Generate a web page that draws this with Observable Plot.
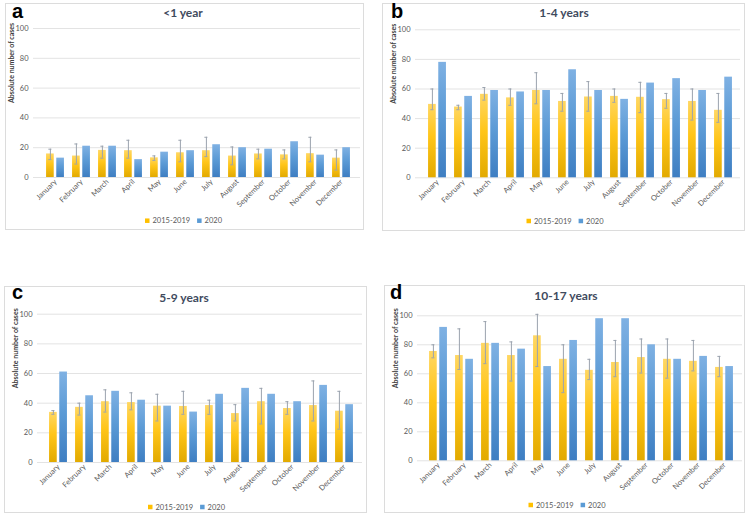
<!DOCTYPE html>
<html>
<head>
<meta charset="utf-8">
<script src="https://cdn.jsdelivr.net/npm/d3@7"></script>
<script src="https://cdn.jsdelivr.net/npm/@observablehq/plot@0.6"></script>
<style>
  body { margin: 0; background: #fff; }
  #root { position: relative; width: 749px; height: 516px; overflow: hidden; background: #fff; }
  .panel { position: absolute; }
  .frame { position: absolute; left: 0; top: 0; right: 0; bottom: 0; border: 1px solid #dcdcdc; box-sizing: border-box; }
  .panel svg { position: absolute; left: 0; top: 0; }
  #overlay { position: absolute; left: 0; top: 0; pointer-events: none; }
</style>
</head>
<body>
<div id="root"></div>
<script>
// ---------------- data ----------------
const months = ["January","February","March","April","May","June","July","August","September","October","November","December"];
const seriesNames = ["2015-2019", "2020"];
const yTicks = [0, 20, 40, 60, 80, 100];
const yLabel = "Absolute number of cases";
const panelLetters = ["a", "b", "c", "d"];
const panelTitles = ["<1 year", "1-4 years", "5-9 years", "10-17 years"];

// (a) <1 year
const aMean = [15.8, 14.4, 18.2, 18.0, 13.2, 16.6, 18.0, 14.4, 15.8, 15.2, 16.0, 13.0];
const aLo   = [12, 9, 13, 13, 11.5, 10.5, 14, 8.5, 12.5, 12.5, 10.5, 5];
const aHi   = [19, 22.5, 21, 25, 14.5, 25, 27, 20.5, 19, 18.5, 27, 18.5];
const a2020 = [13, 21, 21, 12, 17, 18, 22, 20, 19, 24, 15, 20];

// (b) 1-4 years
const bMean = [49.6, 47.8, 56.4, 54.0, 59.0, 51.6, 54.6, 55.0, 54.4, 52.8, 51.6, 45.6];
const bLo   = [46, 46, 52.5, 49, 50, 45, 45, 51, 44, 47, 39, 37.5];
const bHi   = [60, 49, 61, 60, 71, 57, 65, 60, 64.5, 57, 60, 57];
const b2020 = [78, 55, 59, 58, 59, 73, 59, 53, 64, 67, 59, 68];

// (c) 5-9 years
const cMean = [33.8, 37.2, 41.0, 40.4, 38.0, 37.8, 38.4, 33.0, 41.0, 36.4, 38.4, 34.6];
const cLo   = [32.5, 32, 34, 35.5, 28, 32.5, 32.5, 28, 26, 32.5, 28, 22.5];
const cHi   = [35, 40, 49, 47, 46, 48, 42, 39, 50, 41, 55, 48];
const c2020 = [61, 45, 48, 42, 38, 34, 46, 50, 46, 41, 52, 39];

// (d) 10-17 years
const dMean = [75.4, 72.6, 81.0, 72.6, 86.2, 70.0, 62.4, 67.8, 71.2, 70.0, 68.6, 64.4];
const dLo   = [71, 63, 67, 55, 65, 47, 56, 58, 60.5, 57, 62, 58];
const dHi   = [80, 91, 96, 82, 101, 80, 70, 83, 84, 84, 83, 72];
const d2020 = [92, 70, 81, 77, 65, 83, 98, 98, 80, 70, 72, 65];

const panelData = [
  {mean: aMean, lo: aLo, hi: aHi, v2020: a2020},
  {mean: bMean, lo: bLo, hi: bHi, v2020: b2020},
  {mean: cMean, lo: cLo, hi: cHi, v2020: c2020},
  {mean: dMean, lo: dLo, hi: dHi, v2020: d2020}
];

// ---------------- layout (pixels) ----------------
const FONT = "Lato, 'Open Sans', 'DejaVu Sans', sans-serif";
const layout = [
  {box: [5, 3, 364, 230],   frame: [33, 360],  xr: [36, 359.3],   y100: 28,    y0: 177,   letter: [12, 18.3],  title: [183, 16.9], legend: [183.5, 220.7]},
  {box: [382, 3, 745, 231], frame: [415, 740], xr: [418, 741],    y100: 29.3,  y0: 177.3, letter: [391, 18.3], title: [564, 16.9], legend: [565, 221]},
  {box: [4, 286, 367, 513], frame: [37, 362],  xr: [39.3, 362.3], y100: 313.7, y0: 462,   letter: [12, 298.5], title: [184, 301.7], legend: [186.5, 507]},
  {box: [384, 285, 745, 513], frame: [417, 742], xr: [419.5, 742.7], y100: 315.3, y0: 460.3, letter: [390, 298.5], title: [566, 300.2], legend: [567, 505]}
];
const colors = {
  yellow: [["0%", "#ffd763"], ["45%", "#ffc519"], ["100%", "#e2aa00"]],
  blue:   [["0%", "#7fb1e3"], ["45%", "#5c9bd6"], ["100%", "#3e7ec2"]]
};
const swatch = {yellow: "#ffc000", blue: "#5b9bd5"};

const svgNS = "http://www.w3.org/2000/svg";
function gradientDefs(key) {
  return () => {
    const defs = document.createElementNS(svgNS, "defs");
    for (const [name, stops] of Object.entries(colors)) {
      const g = document.createElementNS(svgNS, "linearGradient");
      g.setAttribute("id", `g-${name}-${key}`);
      g.setAttribute("x1", "0"); g.setAttribute("y1", "0");
      g.setAttribute("x2", "0"); g.setAttribute("y2", "1");
      for (const [o, c] of stops) {
        const s = document.createElementNS(svgNS, "stop");
        s.setAttribute("offset", o); s.setAttribute("stop-color", c);
        g.appendChild(s);
      }
      defs.appendChild(g);
    }
    return defs;
  };
}

const root = document.getElementById("root");

layout.forEach((L, p) => {
  const D = panelData[p];
  const key = panelLetters[p];
  const rows = months.map((m, i) => ({month: m, mean: D.mean[i], lo: D.lo[i], hi: D.hi[i], v2020: D.v2020[i]}));
  const w = L.box[2] - L.box[0], h = L.box[3] - L.box[1];
  const step = (L.xr[1] - L.xr[0]) / months.length;
  const barW = 8.6, gap = 1.6;
  const side = (step - 2 * barW - gap) / 2;
  const errCenter = side + barW / 2;
  const capHalf = 2;

  const chart = Plot.plot({
    width: w, height: h,
    marginLeft: L.frame[0] - L.box[0],
    marginRight: L.box[2] - L.frame[1],
    marginTop: L.y100 - L.box[1],
    marginBottom: L.box[3] - L.y0,
    style: {fontFamily: FONT, fontSize: "7.5px", background: "transparent", overflow: "visible"},
    x: {type: "band", domain: months, range: [L.xr[0] - L.box[0], L.xr[1] - L.box[0]], padding: 0},
    y: {domain: [0, 100]},
    marks: [
      gradientDefs(key),
      Plot.gridY(yTicks, {stroke: "#e3e3e3", strokeOpacity: 1}),
      Plot.axisY(yTicks, {tickSize: 0, tickPadding: 5, color: "#595959", label: null}),
      Plot.axisX({tickRotate: -45, tickSize: 0, tickPadding: 3, color: "#595959", label: null}),
      Plot.barY(rows, {x: "month", y: "mean", fill: `url(#g-yellow-${key})`, insetLeft: side, insetRight: step - side - barW}),
      Plot.barY(rows, {x: "month", y: "v2020", fill: `url(#g-blue-${key})`, insetLeft: side + barW + gap, insetRight: side}),
      Plot.ruleX(rows, {x: "month", y1: "lo", y2: "hi", stroke: "#9ba3ae", strokeWidth: 1, dx: errCenter - step / 2}),
      Plot.tickY(rows, {x: "month", y: "hi", stroke: "#9ba3ae", insetLeft: errCenter - capHalf, insetRight: step - errCenter - capHalf}),
      Plot.tickY(rows, {x: "month", y: "lo", stroke: "#9ba3ae", insetLeft: errCenter - capHalf, insetRight: step - errCenter - capHalf}),
      Plot.text([yLabel], {frameAnchor: "left", rotate: -90, dx: -21.5, fontWeight: "bold", fontSize: 7, fill: "#404040"})
    ]
  });

  const div = document.createElement("div");
  div.className = "panel";
  div.style.left = L.box[0] + "px"; div.style.top = L.box[1] + "px";
  div.style.width = w + "px"; div.style.height = h + "px";
  const fr = document.createElement("div"); fr.className = "frame";
  div.appendChild(fr);
  div.appendChild(chart);
  root.appendChild(div);
});

// overlay: panel letters, titles, legends
const ov = document.createElementNS(svgNS, "svg");
ov.setAttribute("id", "overlay");
ov.setAttribute("width", 749); ov.setAttribute("height", 516);
root.appendChild(ov);
function addText(x, y, str, attrs) {
  const t = document.createElementNS(svgNS, "text");
  t.setAttribute("x", x); t.setAttribute("y", y);
  for (const [k, v] of Object.entries(attrs)) t.setAttribute(k, v);
  t.textContent = str;
  ov.appendChild(t);
  return t;
}
function addRect(x, y, w, h, fill) {
  const r = document.createElementNS(svgNS, "rect");
  r.setAttribute("x", x); r.setAttribute("y", y); r.setAttribute("width", w); r.setAttribute("height", h);
  r.setAttribute("fill", fill);
  ov.appendChild(r);
}
layout.forEach((L, p) => {
  addText(L.letter[0], L.letter[1], panelLetters[p], {"font-family": "'Liberation Sans', Arial, sans-serif", "font-weight": "bold", "font-size": 20, fill: "#000"});
  addText(L.title[0], L.title[1], panelTitles[p], {"font-family": FONT, "font-weight": "bold", "font-size": 12, fill: "#3f4b5e", "text-anchor": "middle"});
  // legend
  const [cx, cy] = L.legend;
  const sq = 4.5, gapS = 3, gapItem = 7;
  const t1 = addText(0, cy + 2.6, seriesNames[0], {"font-family": FONT, "font-size": 7.5, fill: "#595959"});
  const t2 = addText(0, cy + 2.6, seriesNames[1], {"font-family": FONT, "font-size": 7.5, fill: "#595959"});
  const w1 = t1.getComputedTextLength(), w2 = t2.getComputedTextLength();
  const total = sq + gapS + w1 + gapItem + sq + gapS + w2;
  let x = cx - total / 2;
  addRect(x, cy - sq / 2, sq, sq, swatch.yellow); x += sq + gapS;
  t1.setAttribute("x", x); x += w1 + gapItem;
  addRect(x, cy - sq / 2, sq, sq, swatch.blue); x += sq + gapS;
  t2.setAttribute("x", x);
});
</script>
</body>
</html>
